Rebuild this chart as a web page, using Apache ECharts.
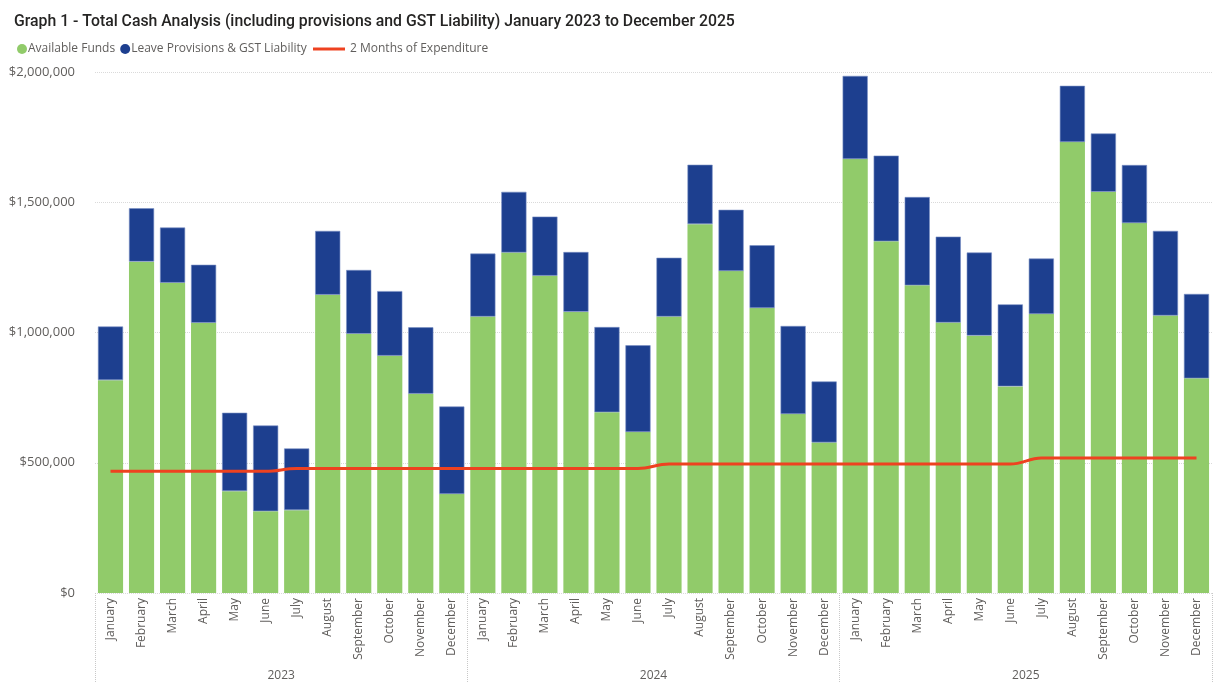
<!DOCTYPE html>
<html>
<head>
<meta charset="utf-8">
<script src="https://cdn.jsdelivr.net/npm/echarts@6/dist/echarts.min.js"></script>
<style>
html,body{margin:0;padding:0;background:#fff;}
#chart{width:1216px;height:682px;}
</style>
</head>
<body>
<div id="chart"></div>
<script>
const months = ['January','February','March','April','May','June','July','August','September','October','November','December'];
const years = ['2023','2024','2025'];
const categories = [];
years.forEach(y => months.forEach(m => categories.push(y + ' ' + m)));

const availableFunds = [
  817000, 1272000, 1191000, 1037000, 391000, 314000, 318000, 1145000, 995000, 911000, 765000, 380000,
  1061000, 1307000, 1218000, 1079000, 694000, 618000, 1061000, 1416000, 1236000, 1094000, 687000, 578000,
  1666000, 1350000, 1181000, 1038000, 988000, 793000, 1071000, 1731000, 1540000, 1420000, 1065000, 824000
];
const totalCash = [
  1023000, 1477000, 1403000, 1260000, 692000, 643000, 555000, 1390000, 1240000, 1159000, 1020000, 716000,
  1303000, 1540000, 1445000, 1309000, 1021000, 951000, 1287000, 1644000, 1471000, 1335000, 1025000, 812000,
  1985000, 1679000, 1520000, 1368000, 1307000, 1108000, 1284000, 1947000, 1764000, 1643000, 1390000, 1148000
];
const leaveProvisions = totalCash.map((t, i) => t - availableFunds[i]);
const twoMonthsExpenditure = [
  467000, 467000, 467000, 467000, 467000, 467000, 478000, 478000, 478000, 478000, 478000, 478000,
  478000, 478000, 478000, 478000, 478000, 478000, 495000, 495000, 495000, 495000, 495000, 495000,
  495000, 495000, 495000, 495000, 495000, 495000, 518000, 518000, 518000, 518000, 518000, 518000
];
const yTicks = [0, 500000, 1000000, 1500000, 2000000];

const chart = echarts.init(document.getElementById('chart'));
const gray = '#605E5C';
const font = "'Open Sans', 'Noto Sans', sans-serif";

chart.setOption({
  animation: false,
  textStyle: { fontFamily: font },
  title: {
    text: 'Graph 1 - Total Cash Analysis (including provisions and GST Liability) January 2023 to December 2025',
    left: 9, top: 9,
    textStyle: { fontFamily: "'Roboto', sans-serif", fontSize: 15.8, fontWeight: 500, color: '#252423' }
  },
  legend: [{
    left: 12, top: 38,
    itemWidth: 10, itemHeight: 10, itemGap: 5,
    icon: 'circle',
    itemStyle: { borderWidth: 0 },
    data: ['Available Funds', 'Leave Provisions & GST Liability'],
    textStyle: { fontSize: 12, color: gray, fontFamily: font, padding: [0, 0, 0, -4] }
  }, {
    left: 308, top: 38,
    itemWidth: 32, itemHeight: 3,
    icon: 'rect',
    data: ['2 Months of Expenditure'],
    textStyle: { fontSize: 12, color: gray, fontFamily: font }
  }],
  grid: { left: 95, right: 4, top: 72, bottom: 89 },
  xAxis: [{
    type: 'category',
    data: categories,
    axisLine: { show: false },
    axisTick: { show: false },
    axisLabel: {
      rotate: 90, margin: 5, fontSize: 12, color: gray, fontFamily: font,
      formatter: v => v.split(' ')[1]
    }
  }, {
    type: 'category',
    data: years,
    position: 'bottom',
    axisLine: { show: false },
    axisTick: { show: true, length: 90, lineStyle: { type: 'dotted', color: '#C8C8C8', width: 1 } },
    axisLabel: { margin: 77, fontSize: 12, color: gray, fontFamily: font },
    splitLine: { show: false }
  }],
  yAxis: {
    type: 'value',
    min: yTicks[0], max: yTicks[yTicks.length - 1], interval: 500000,
    axisLine: { show: false },
    axisTick: { show: false },
    splitLine: { lineStyle: { type: 'dotted', color: '#DADADA', width: 1 } },
    axisLabel: {
      margin: 20, fontSize: 13, color: gray, fontFamily: font,
      formatter: v => '$' + v.toLocaleString('en-US')
    }
  },
  series: [{
    name: 'Available Funds',
    type: 'bar', stack: 'cash',
    data: availableFunds,
    barCategoryGap: '19%',
    itemStyle: { color: '#91CB6A' }
  }, {
    name: 'Leave Provisions & GST Liability',
    type: 'bar', stack: 'cash',
    data: leaveProvisions,
    itemStyle: { color: '#1D3F8F', borderColor: '#7B90C4', borderWidth: 0.6 }
  }, {
    name: '2 Months of Expenditure',
    type: 'line',
    data: twoMonthsExpenditure,
    symbol: 'none',
    smooth: 0.4,
    smoothMonotone: 'x',
    lineStyle: { color: '#EE4220', width: 3 },
    itemStyle: { color: '#EE4220' },
    z: 5
  }]
});
</script>
</body>
</html>
